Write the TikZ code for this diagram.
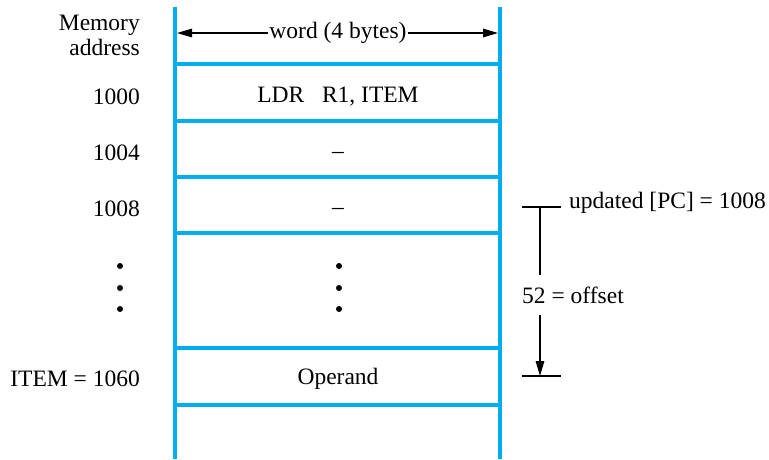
\documentclass[tikz,border=0pt]{standalone}
\usepackage{fontspec}
\setmainfont{Liberation Serif}
\usetikzlibrary{arrows.meta}
\definecolor{memblue}{RGB}{0,174,239}
\begin{document}
\begin{tikzpicture}[x=1pt,y=-1pt,
  wall/.style={memblue, line width=3.5pt},
  lbl/.style={font=\fontsize{23.5}{25}\selectfont, inner sep=0pt},
  dim/.style={black, line width=1.4pt},
  tip/.style={-{Triangle[length=15pt,width=8.5pt]}},
  dotc/.style={circle, fill=black, inner sep=0pt, minimum size=6pt}]
\useasboundingbox (0,0) rectangle (769,459);
% memory column
\draw[wall] (175,7) -- (175,459);
\draw[wall] (500,7) -- (500,459);
\foreach \yy in {64,121,177,233,348,405}
  \draw[wall] (175,\yy) -- (500,\yy);
% word width
\coordinate (wl) at (177,33);
\coordinate (wr) at (498,33);
\node[lbl, inner xsep=1.5pt] (word) at (338,33) {word (4 bytes)};
\draw[dim, tip] (word.west) -- (wl);
\draw[dim, tip] (word.east) -- (wr);
% addresses
\node[lbl, anchor=east, align=right] (memaddr) at (140,35) {Memory\\address};
\node[lbl, anchor=east] (a1000) at (140,97) {1000};
\node[lbl, anchor=east] (a1004) at (140,153) {1004};
\node[lbl, anchor=east] (a1008) at (140,209) {1008};
\node[lbl, anchor=east] (aitem) at (140,379) {ITEM = 1060};
% contents
\node[lbl] (c1000) at (338,97) {LDR\hspace{0.75em}R1, ITEM};
\node[lbl] (c1004) at (338,155) {--};
\node[lbl] (c1008) at (338,211) {--};
\node[lbl] (citem) at (338,379) {Operand};
% dots
\foreach \yy [count=\i] in {266,288,309} {
  \node[dotc] (ld\i) at (120,\yy) {};
  \node[dotc] (cd\i) at (339,\yy) {};
}
% offset dimension
\coordinate (pcL) at (522,207);
\coordinate (pcR) at (561,207);
\coordinate (pcM) at (540,207);
\coordinate (opL) at (522,376);
\coordinate (opR) at (561,376);
\coordinate (opM) at (540,376);
\draw[dim] (pcL) -- (pcR);
\draw[dim] (opL) -- (opR);
\node[lbl, anchor=west] (pc) at (569,203) {updated [PC] = 1008};
\node[lbl, anchor=west, inner ysep=11pt] (off) at (522,295) {52 = offset};
\draw[dim] (pcM) -- (pcM |- off.north);
\draw[dim, tip] (opM |- off.south) -- (opM);
\end{tikzpicture}
\end{document}
